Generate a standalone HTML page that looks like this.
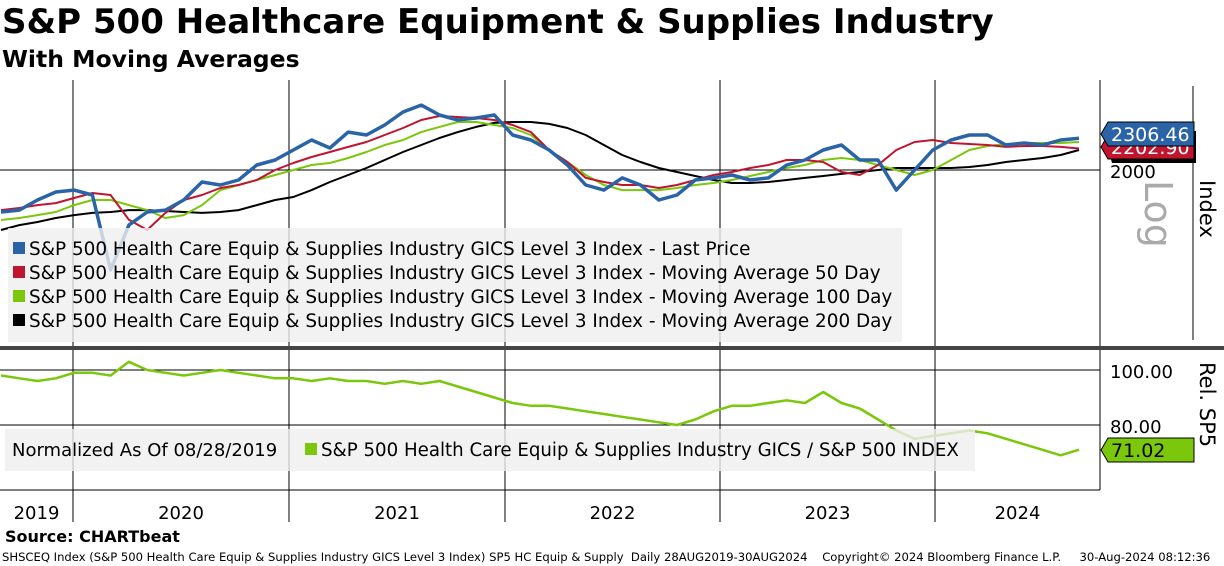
<!DOCTYPE html>
<html><head><meta charset="utf-8">
<style>
body{margin:0;background:#fff;font-family:"Liberation Sans","DejaVu Sans",sans-serif;}
#wrap{position:relative;width:1224px;height:566px;overflow:hidden;background:#fff}
.t{position:absolute;white-space:nowrap;color:#000}
</style></head><body>
<div id="wrap">
<div class="t" style="left:2px;top:2px;font:bold 34px 'DejaVu Sans',sans-serif;">S&amp;P 500 Healthcare Equipment &amp; Supplies Industry</div>
<div class="t" style="left:2px;top:45px;font:bold 23.5px 'DejaVu Sans',sans-serif;">With Moving Averages</div>
<svg id="svg" width="1224" height="566" style="position:absolute;left:0;top:0"></svg>
<div class="t" style="left:5px;top:527px;font:bold 16px 'DejaVu Sans',sans-serif;">Source: CHARTbeat</div>
<div class="t" style="left:2px;top:550px;font:11.6px 'DejaVu Sans',sans-serif;">SHSCEQ Index (S&amp;P 500 Health Care Equip &amp; Supplies Industry GICS Level 3 Index) SP5 HC Equip &amp; Supply&nbsp; Daily 28AUG2019-30AUG2024&nbsp;&nbsp;&nbsp; Copyright© 2024 Bloomberg Finance L.P.&nbsp;&nbsp;&nbsp;&nbsp; 30-Aug-2024 08:12:36</div>
</div>
<script>
// Data (monthly approx, Sep 2019 .. Aug 2024)
const years = ['2019','2020','2021','2022','2023','2024'];
const price = [1657,1671,1748,1812,1828,1788,1278,1562,1657,1671,1748,1895,1870,1912,2045,2092,2188,2288,2207,2371,2340,2447,2594,2676,2559,2503,2525,2559,2340,2288,2188,2045,1870,1828,1930,1870,1748,1788,1912,1930,1956,1912,1930,2045,2092,2188,2237,2092,2092,1828,2000,2188,2288,2340,2340,2237,2257,2237,2288,2306.46];
const ma50 = [1671,1687,1709,1724,1764,1804,1788,1600,1528,1650,1748,1788,1845,1870,1912,2000,2064,2120,2168,2218,2268,2340,2414,2503,2548,2537,2525,2503,2447,2371,2188,2073,1930,1895,1870,1870,1845,1870,1912,1956,1982,2018,2045,2092,2092,2073,1982,1956,2045,2188,2268,2288,2257,2247,2237,2218,2227,2227,2218,2202.90];
const ma100 = [1598,1613,1634,1657,1709,1748,1748,1709,1671,1613,1634,1709,1828,1870,1912,1956,2000,2045,2064,2111,2168,2237,2288,2371,2426,2480,2480,2447,2414,2340,2188,2073,1956,1870,1828,1828,1828,1845,1870,1887,1912,1947,1982,2018,2045,2092,2111,2092,2045,2000,1956,2000,2092,2188,2227,2247,2257,2257,2257,2268];
const ma200 = [1528,1562,1584,1613,1634,1650,1657,1671,1671,1664,1657,1650,1657,1671,1709,1748,1772,1828,1895,1956,2018,2092,2168,2237,2309,2371,2426,2470,2480,2480,2459,2414,2340,2237,2139,2073,2018,1982,1947,1912,1887,1887,1895,1912,1930,1947,1965,1982,2000,2018,2018,2018,2018,2027,2045,2073,2092,2111,2139,2188];
const rel = [98,97,96,97,99,99,98,103,100,99,98,99,100,99,98,97,97,96,97,96,96,95,96,95,96,94,92,90,88,87,87,86,85,84,83,82,81,80,82,85,87,87,88,89,88,92,88,86,82,78,75,76,77,78,77,75,73,71,69,71.02];
const yTicksTop = [2000];
const yTicksBot = [100,80];

const S = document.getElementById('svg'), NS='http://www.w3.org/2000/svg';
function mk(tag, attrs, parent){const e=document.createElementNS(NS,tag);for(const k in attrs)e.setAttribute(k,attrs[k]);(parent||S).appendChild(e);return e;}
const X0=1, X1=1079;
const xIdx=(i,n)=>X0+(X1-X0)*i/(n-1);
const yTop=v=>170-223*Math.log(v/2000);
const yBot=v=>370+(100-v)*2.75;
const yearX=[73,289,505,720,935];

let e;
e=mk('line',{x1:1100,y1:80,x2:1100,y2:490,stroke:'#000','stroke-width':1});

e=mk('line',{x1:1193,y1:86,x2:1193,y2:340,stroke:'#000','stroke-width':1});

e=mk('line',{x1:0,y1:490,x2:1100,y2:490,stroke:'#000','stroke-width':1});

yearX.forEach(x=>{
  e=mk('line',{x1:x,y1:80,x2:x,y2:522,stroke:'#000','stroke-width':1});
  
});
years.forEach((y,i)=>{
  const xa=i==0?0:yearX[i-1], xb=i<yearX.length?yearX[i]:1100;
  e=mk('text',{x:(xa+xb)/2,y:519,'text-anchor':'middle','font-size':18,'font-family':'DejaVu Sans, sans-serif'});e.textContent=y;
  
});
yTicksTop.forEach(v=>{
  const y=yTop(v);
  e=mk('line',{x1:0,y1:y,x2:1100,y2:y,stroke:'#000','stroke-width':1});
  
  e=mk('text',{x:1110,y:y+8,'font-size':18,'font-family':'DejaVu Sans, sans-serif'});e.textContent=v;
  
});
yTicksBot.forEach(v=>{
  const y=yBot(v);
  e=mk('line',{x1:0,y1:y,x2:1100,y2:y,stroke:'#000','stroke-width':1});
  
  e=mk('text',{x:1110,y:y+8,'font-size':18,'font-family':'DejaVu Sans, sans-serif'});e.textContent=v.toFixed(2);
  
});
e=mk('rect',{x:0,y:346,width:1224,height:4,fill:'#444'});


function line(arr,yf,color,w,name){
  const d=arr.map((v,i)=>(i?'L':'M')+xIdx(i,arr.length).toFixed(1)+','+yf(v).toFixed(1)).join('');
  const p=mk('path',{d:d,fill:'none',stroke:color,'stroke-width':w,'stroke-linejoin':'round'});
  
}
const clipT=mk('clipPath',{id:'ct'});mk('rect',{x:0,y:80,width:1100,height:265},clipT);
const g=mk('g',{'clip-path':'url(#ct)'});
function lineG(arr,color,w,name){
  const d=arr.map((v,i)=>(i?'L':'M')+xIdx(i,arr.length).toFixed(1)+','+yTop(v).toFixed(1)).join('');
  const p=mk('path',{d:d,fill:'none',stroke:color,'stroke-width':w,'stroke-linejoin':'round'},g);
  
}
lineG(ma200,'#000',2,'ma200-line');
lineG(ma100,'#7ac70c',2,'ma100-line');
lineG(ma50,'#c0152f',2,'ma50-line');
lineG(price,'#2a64a6',3.5,'price-line');
line(rel,yBot,'#7ac70c',2.5,'relative-line');

e=mk('rect',{x:8,y:228,width:894,height:114,fill:'#efefef','fill-opacity':0.8});

const leg=[['#2a64a6','Last Price'],['#c0152f','Moving Average 50 Day'],['#7ac70c','Moving Average 100 Day'],['#000','Moving Average 200 Day']];
leg.forEach((l,i)=>{
  const y=249+i*24;
  e=mk('rect',{x:13,y:y-7,width:12,height:12,fill:l[0]});
  
  e=mk('text',{x:29,y:y+6,'font-size':18.4,'font-family':'DejaVu Sans, sans-serif'});
  e.textContent='S&P 500 Health Care Equip & Supplies Industry GICS Level 3 Index - '+l[1];
  
});
e=mk('rect',{x:5,y:429,width:970,height:42,fill:'#efefef','fill-opacity':0.8});

e=mk('text',{x:12,y:456,'font-size':18,'font-family':'DejaVu Sans, sans-serif'});e.textContent='Normalized As Of 08/28/2019';

e=mk('rect',{x:305,y:443,width:12,height:12,fill:'#7ac70c'});

e=mk('text',{x:321,y:456,'font-size':18.2,'font-family':'DejaVu Sans, sans-serif'});e.textContent='S&P 500 Health Care Equip & Supplies Industry GICS / S&P 500 INDEX';


function tag(y,fill,txt,tc,name,shadow){
  if(shadow){e=mk('path',{d:`M1105,${y-10} L1112,${y-16} L1196,${y-16} L1196,${y+16} L1112,${y+16} Z`,fill:'#000'});}
  e=mk('path',{d:`M1101,${y} L1108,${y-12} L1194,${y-12} L1194,${y+12} L1108,${y+12} Z`,fill:fill,stroke:'#000','stroke-width':1});
  
  e=mk('text',{x:1111,y:y+7,'font-size':19,fill:tc,'font-family':'DejaVu Sans, sans-serif'});e.textContent=txt;
  
}
tag(147,'#c0152f',ma50[ma50.length-1].toFixed(2),'#fff','ma50-value-tag',true);
tag(134,'#2a64a6',price[price.length-1].toFixed(2),'#fff','price-value-tag',false);
tag(450,'#7ac70c',rel[rel.length-1].toFixed(2),'#000','rel-value-tag',false);

function vtext(x,y,txt,size,color,name){
  e=mk('text',{x:x,y:y,'font-size':size,fill:color,'font-family':'DejaVu Sans, sans-serif',transform:`rotate(90 ${x} ${y})`});e.textContent=txt;
  
}
vtext(1145,180,'Log',38,'#aaa','log-scale-label');
vtext(1200,180,'Index',21,'#000','index-axis-title');
vtext(1200,362,'Rel. SP5',21,'#000','rel-axis-title');
</script>
</body></html>
